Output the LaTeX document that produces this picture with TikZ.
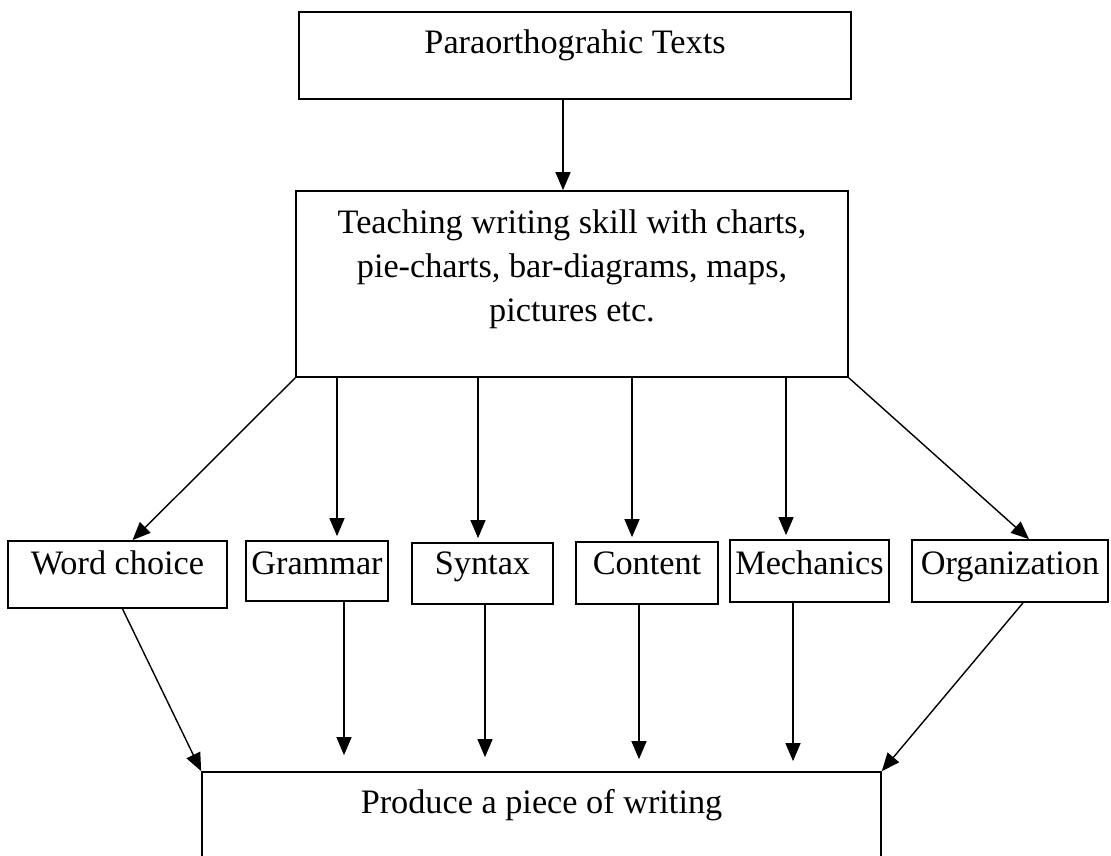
\documentclass[tikz,border=0pt]{standalone}
\usepackage{fontspec}
\setmainfont{Liberation Serif}
\usetikzlibrary{arrows.meta,calc}
\begin{document}
\begin{tikzpicture}[
  x=0.02cm, y=-0.02cm,
  box/.style={draw, line width=1pt, inner sep=0pt},
  txt/.style={font=\fontsize{19.5}{25}\selectfont, inner sep=0pt, align=center},
  arr/.style={line width=0.8pt, -{Triangle[length=0.36cm, width=0.3cm]}}
]
\clip (0,0) rectangle (1111,855);
\node[box, minimum width=11.04cm, minimum height=1.74cm] (top) at (575,55.5) {};
\node[txt, anchor=base] (toptxt) at (575,54) {Paraorthograhic Texts};
\node[box, minimum width=11.04cm, minimum height=3.72cm] (mid) at (572,284) {};
\node[txt, anchor=north] (midtxt) at (572,209.5) {Teaching writing skill with charts,\\ pie-charts, bar-diagrams, maps,\\ pictures etc.};
\foreach \n/\x/\y/\w/\h/\t in {word/117.5/574.5/4.38/1.34/Word choice, gram/317/571/2.84/1.2/Grammar,
    syn/482.5/573.5/2.82/1.22/Syntax, cont/647/573/2.84/1.24/Content,
    mech/809.5/571/3.18/1.24/Mechanics, org/1010/571/3.92/1.24/Organization} {
  \node[box, minimum width=\w cm, minimum height=\h cm] (\n) at (\x,\y) {};
  \node[txt, anchor=base] (\n txt) at (\x,574) {\t};
}
\node[box, minimum width=13.58cm, minimum height=3.2cm] (bot) at (541.5,852) {};
\node[txt, anchor=base] (bottxt) at (541.5,813) {Produce a piece of writing};
% arrows
\draw[arr] ($(top.south)+(-12,0)$) -- ($(mid.north)+(-9,0)$);
\draw[arr] (mid.south west) -- ($(word.north)+(15,0)$);
\foreach \x/\n in {337/gram, 478/syn, 632/cont, 786/mech}
  \draw[arr, shorten >=0.08cm] (\x,0 |- mid.south) -- (\x,0 |- \n.north);
\draw[arr] (mid.south east) -- ($(org.north)+(19,0)$);
\draw[arr] ($(word.south)+(5,0)$) -- (bot.north west);
\foreach \x/\n/\s in {344/gram/0.32, 485/syn/0.28, 639/cont/0.24, 793/mech/0.2}
  \draw[arr, shorten >=\s cm] (\x,0 |- \n.south) -- (\x,0 |- bot.north);
\draw[arr] ($(org.south)+(13,0)$) -- (bot.north east);
\end{tikzpicture}
\end{document}
